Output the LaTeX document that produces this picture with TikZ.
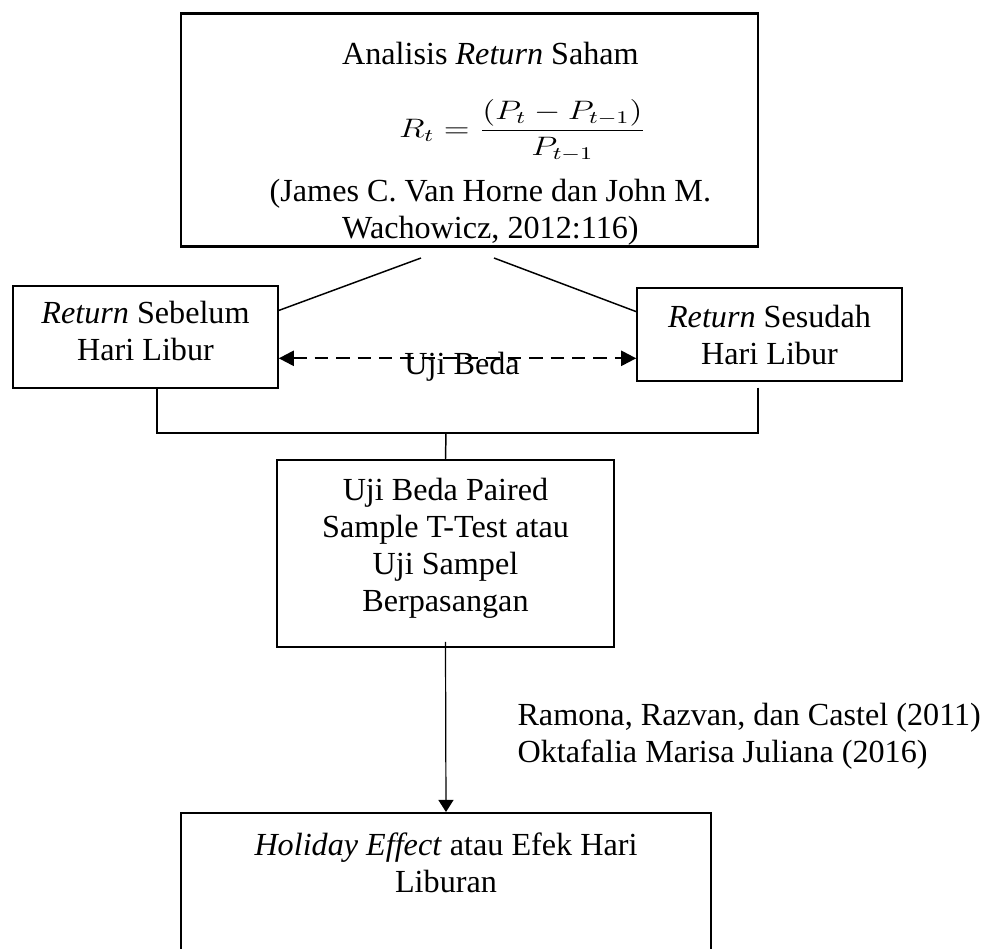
\documentclass[tikz,border=0pt]{standalone}
\usepackage{graphicx}
\usepackage{fontspec}
\setmainfont{Liberation Serif}
\usetikzlibrary{arrows.meta,calc}

\begin{document}
\begin{tikzpicture}[
    x=0.373pt, y=-0.373pt,
    font=\fontsize{12}{13.8}\selectfont,
    % --- Styles ---
    % boxes: text height/depth fix the first baseline inside the box
    step box/.style={draw, inner sep=0pt, align=center, line width=0.63pt,
        execute at begin node={\spaceskip=\fontdimen2\font\relax}},
    link line/.style={line width=0.55pt},
    % dashed two-way arrow between the two returns
    pair arrow/.style={line width=0.85pt, dash pattern=on 5pt off 3pt,
        {Triangle[length=5.6pt,width=5.6pt]}-{Triangle[length=5.6pt,width=5.6pt]}},
    flow arrow/.style={line width=0.45pt, -{Triangle[length=4.5pt,width=5.6pt]}}
]

% page size of the reference
\useasboundingbox (0,0) rectangle (986,949);

%================ BOXES ================
% text of the top box sits a little right of the middle
\node[step box, line width=1pt, anchor=north, minimum width=215.2pt,
      text height=19pt, text depth=67.9pt] (saham) at (469.5,12) {%
    \hspace*{15.6pt}\begin{tabular}[t]{@{}c@{}}
    Analisis \textit{Return} Saham\\[13.4pt]
    \hspace*{24pt}\smash{\scalebox{1.05}[0.83]{$\displaystyle R_t=\frac{(P_t-P_{t-1})}{P_{t-1}}$}}\\[10pt]
    (James C. Van Horne dan John M.\\
    Wachowicz, 2012:116)
    \end{tabular}};

\node[step box, anchor=north, text width=98.8pt,
      text height=14.2pt, text depth=23.9pt] (sebelum) at (145.5,285)
    {\textit{Return} Sebelum\\Hari Libur};

\node[step box, anchor=north, text width=98.8pt,
      text height=14.9pt, text depth=19.8pt] (sesudah) at (769.5,287)
    {\textit{Return} Sesudah\\Hari Libur};

\node[step box, anchor=north, text width=125.7pt,
      text height=15.3pt, text depth=54.5pt] (paired) at (445.5,459)
    {Uji Beda Paired\\Sample T-Test atau\\Uji Sampel\\Berpasangan};

% bottom box runs off the page
\node[step box, line width=0.87pt, anchor=north, text width=197.7pt,
      text height=15.7pt, text depth=38pt] (effect) at (446,812)
    {\textit{Holiday Effect} atau Efek Hari\\Liburan};

\node[anchor=base west, align=left, inner sep=0pt] (refs) at (517,762)
    {Ramona, Razvan, dan Castel (2011)\\Oktafalia Marisa Juliana (2016)};

%================ CONNECTORS ================
% free ends under the top box
\coordinate (tl) at (421,258);
\coordinate (tr) at (494,258);
\draw[link line] (tl) -- ($(sebelum.north east)!0.245!(sebelum.south east)$);
\draw[link line] (tr) -- ($(sesudah.north west)!0.26!(sesudah.south west)$);

% Uji Beda
\coordinate (pa) at ($(sebelum.north east)!0.706!(sebelum.south east)$);
\draw[pair arrow] (pa) -- (pa -| sesudah.west)
    node[midway, anchor=base, xshift=1.7pt, yshift=-6pt] (ujibeda) {Uji Beda};

% bracket down to the test box
\coordinate (join) at (446,433);
\draw[link line] ($(sebelum.south)+(11.5,0)$) |- (join);
\draw[link line] ($(sesudah.south)+(-11.5,6)$) |- (join);
\draw[link line] (join) -- (paired.north);

\draw[flow arrow] ($(paired.south)+(0,-6)$) -- (effect.north);

\end{tikzpicture}
\end{document}
